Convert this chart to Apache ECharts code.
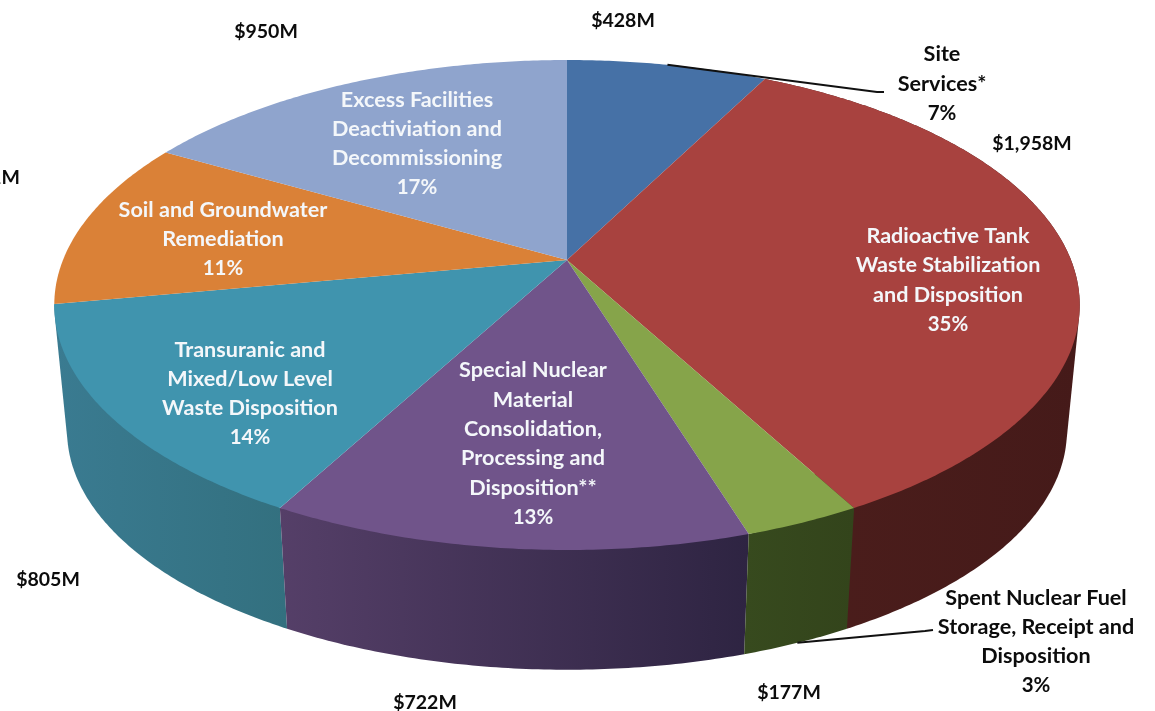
<!DOCTYPE html>
<html>
<head>
<meta charset="utf-8">
<title>Cleanup funding by program area</title>
<style>
  html, body { margin: 0; padding: 0; background: #fff; overflow: hidden; }
  #chart { width: 1155px; height: 711px; }
</style>
<script src="https://cdn.jsdelivr.net/npm/echarts@6/dist/echarts.min.js"></script>
</head>
<body>
<div id="chart"></div>
<script>
// Program areas, clockwise from twelve o'clock
const sliceNames = [
  'Site\nServices*',
  'Radioactive Tank\nWaste Stabilization\nand Disposition',
  'Spent Nuclear Fuel\nStorage, Receipt and\nDisposition',
  'Special Nuclear\nMaterial\nConsolidation,\nProcessing and\nDisposition**',
  'Transuranic and\nMixed/Low Level\nWaste Disposition',
  'Soil and Groundwater\nRemediation',
  'Excess Facilities\nDeactiviation and\nDecommissioning'
];
const sliceValues = [428, 1958, 177, 722, 805, 631, 950];
const shareLabels = ['7%', '35%', '3%', '13%', '14%', '11%', '17%'];
const dollarLabels = ['$428M', '$1,958M', '$177M', '$722M', '$805M', '$631M', '$950M'];

const topColors = ['#4671a6', '#a8423f', '#86a44a', '#70548a', '#4094ae', '#da8137', '#8fa4cd'];
const wallColors = {
  1: ['#4c1e1c', '#451a19'],
  2: ['#374a1e', '#33441b'],
  3: ['#553f68', '#2e2442'],
  4: ['#3a7b91', '#33707f']
};

// Perspective of the disc: circle coordinates to page pixels
const CX = 567, CY = 260, RX = 504, RY = 236.7, TILT = 0.1837;
const BOTTOM_CY = 387, BOTTOM_SCALE = 0.975;

const total = sliceValues.reduce((a, b) => a + b, 0);
const edges = [0];
sliceValues.forEach(v => edges.push(edges[edges.length - 1] + v / total * Math.PI * 2));

function rimPoint(angle, bottom) {
  const sx = Math.sin(angle), sy = -Math.cos(angle);
  const d = 1 - TILT * sy;
  const s = bottom ? BOTTOM_SCALE : 1;
  return [CX + s * RX * sx / d, (bottom ? BOTTOM_CY : CY) + s * RY * sy / d];
}

function arc(from, to, bottom) {
  const n = Math.max(2, Math.ceil((to - from) / 0.01));
  const pts = [];
  for (let i = 0; i <= n; i++) pts.push(rimPoint(from + (to - from) * i / n, bottom));
  return pts;
}

// Monotone-chain hull: the swept side of a slice between its two rims
function convexHull(points) {
  const p = points.slice().sort((a, b) => a[0] - b[0] || a[1] - b[1]);
  const cross = (o, a, b) => (a[0] - o[0]) * (b[1] - o[1]) - (a[1] - o[1]) * (b[0] - o[0]);
  const half = list => {
    const h = [];
    list.forEach(q => {
      while (h.length > 1 && cross(h[h.length - 2], h[h.length - 1], q) <= 0) h.pop();
      h.push(q);
    });
    h.pop();
    return h;
  };
  return half(p).concat(half(p.reverse()));
}

const gradient = c => ({
  type: 'linear', x: 0, y: 0, x2: 1, y2: 0,
  colorStops: [{ offset: 0, color: c[0] }, { offset: 1, color: c[1] }]
});

// Only the slices facing the viewer show a side; outer ones are painted first
const wallOrder = [1, 4, 3, 2];

const wallSeries = {
  type: 'custom',
  coordinateSystem: 'none',
  silent: true,
  animation: false,
  data: wallOrder.map(i => [i]),
  renderItem: (params, api) => {
    const i = api.value(0);
    const pts = convexHull(arc(edges[i], edges[i + 1], false).concat(arc(edges[i], edges[i + 1], true)));
    return { type: 'polygon', shape: { points: pts }, style: { fill: gradient(wallColors[i]) } };
  }
};

const faceSeries = {
  type: 'custom',
  coordinateSystem: 'none',
  silent: true,
  animation: false,
  data: sliceValues.map((v, i) => [i, v]),
  renderItem: (params, api) => {
    const i = api.value(0);
    const pts = [[CX, CY]].concat(arc(edges[i], edges[i + 1], false));
    return { type: 'polygon', shape: { points: pts }, style: { fill: topColors[i] } };
  }
};

// Callout lines start at the middle of their slice's rim
const SITE = 0, SPENT = 2;
const middle = i => (edges[i] + edges[i + 1]) / 2;
const leaderSeries = {
  type: 'custom',
  coordinateSystem: 'none',
  silent: true,
  animation: false,
  z: 5,
  data: [[SITE], [SPENT]],
  renderItem: (params, api) => {
    const i = api.value(0);
    const start = rimPoint(middle(i), i === SPENT);
    const rest = i === SITE ? [[877, 92], [884, 92]] : [[925, 631], [933, 630]];
    return {
      type: 'polyline',
      shape: { points: [start].concat(rest) },
      style: { stroke: '#111', lineWidth: 2, fill: null }
    };
  }
};

const FONT = '"Lato", "Open Sans", sans-serif';
const text = (x, y, content, color, size, align) => ({
  type: 'text',
  x, y,
  z: 10,
  silent: true,
  style: {
    text: content,
    fill: color,
    font: 'bold ' + size + 'px ' + FONT,
    lineHeight: 29.4,
    align: align || 'center',
    verticalAlign: 'middle'
  }
});

const NAME_SIZE = 21.6, SHARE_SIZE = 20.5, DOLLAR_SIZE = 19.5;
const WHITE = '#f4f7fa', INK = '#0c0c0c';

// Name block centred on (x, y), with the share on the line below it
function sliceLabel(i, x, y, color) {
  const lines = sliceNames[i].split('\n').length;
  return [
    text(x, y, sliceNames[i], color, NAME_SIZE),
    text(x, y + (lines + 1) / 2 * 29.4, shareLabels[i], color, SHARE_SIZE)
  ];
}

const graphic = [
  ...sliceLabel(0, 942, 69, INK),
  ...sliceLabel(1, 948, 265.5, WHITE),
  ...sliceLabel(2, 1036, 627, INK),
  ...sliceLabel(3, 533, 429, WHITE),
  ...sliceLabel(4, 250, 379, WHITE),
  ...sliceLabel(5, 223, 224.5, WHITE),
  ...sliceLabel(6, 417, 129, WHITE),
  text(623, 21, dollarLabels[0], INK, DOLLAR_SIZE),
  text(1032, 144, dollarLabels[1], INK, DOLLAR_SIZE),
  text(789, 693, dollarLabels[2], INK, DOLLAR_SIZE),
  text(425, 703, dollarLabels[3], INK, DOLLAR_SIZE),
  text(48, 580, dollarLabels[4], INK, DOLLAR_SIZE),
  text(20, 178, dollarLabels[5], INK, DOLLAR_SIZE, 'right'),
  text(266, 32, dollarLabels[6], INK, DOLLAR_SIZE)
];

const chart = echarts.init(document.getElementById('chart'), null, { renderer: 'canvas' });
chart.setOption({
  animation: false,
  backgroundColor: '#fff',
  series: [wallSeries, faceSeries, leaderSeries],
  graphic: { elements: graphic }
});
</script>
</body>
</html>
